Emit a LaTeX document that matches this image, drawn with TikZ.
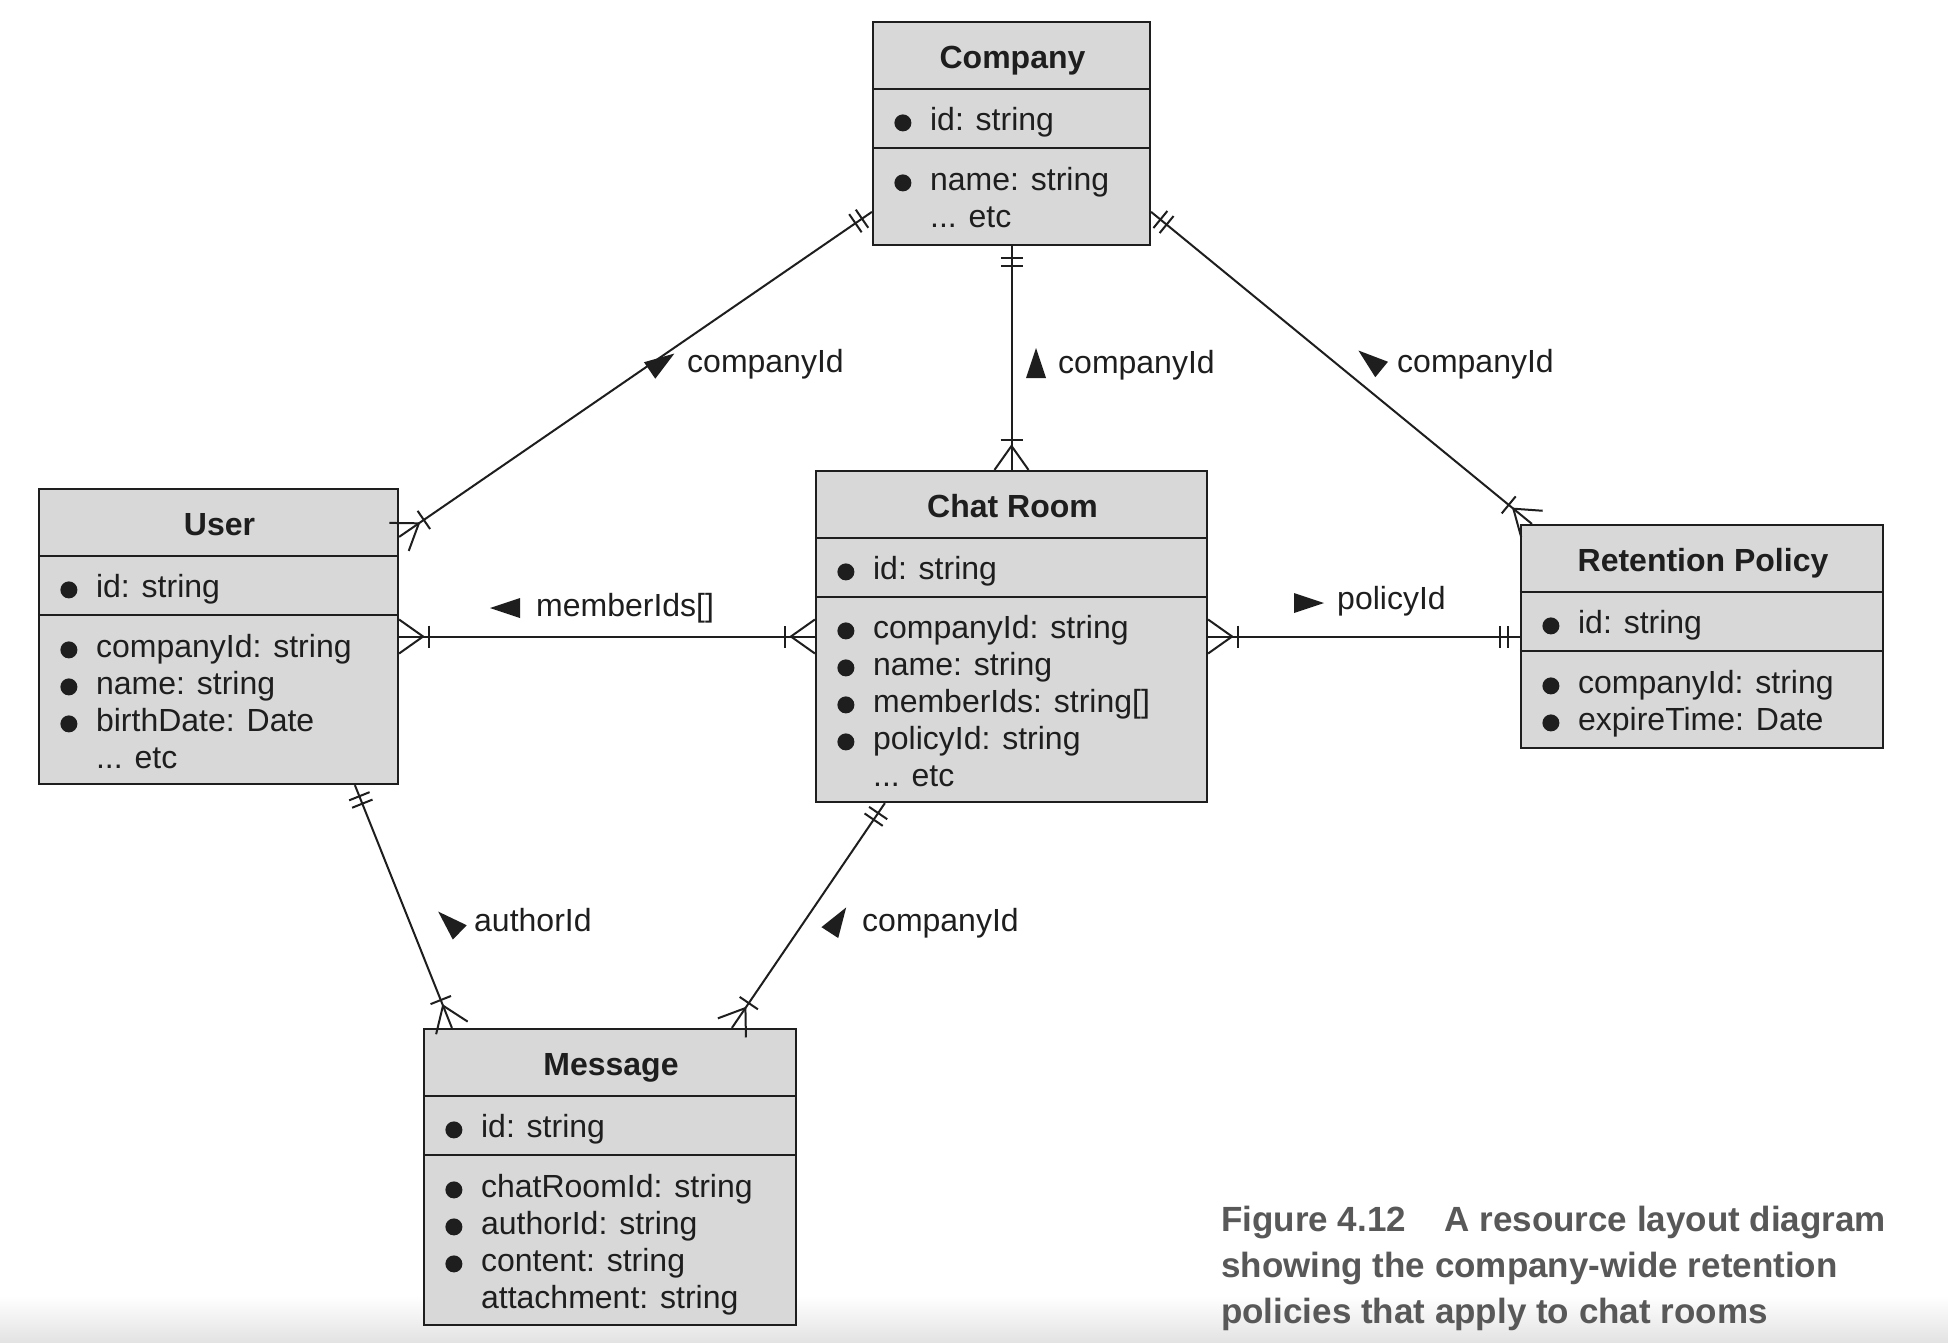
\documentclass[tikz,border=0pt]{standalone}
\usepackage{fontspec}
\setmainfont{Liberation Sans}
\usepackage{xcolor}
\usepackage{tikz}
\usetikzlibrary{calc}

\definecolor{boxfill}{RGB}{216,216,216}
\definecolor{ink}{RGB}{30,30,30}
\definecolor{capgray}{RGB}{88,88,88}

\newcommand{\etcrow}{... etc}

% many side: bar + crow's foot (#1 = end on the box, #2 = other end)
\newcommand{\manyend}[2]{%
  \coordinate (cfTip) at ($(#1)!24pt!(#2)$);
  \coordinate (cfBar) at ($(#1)!30pt!(#2)$);
  \draw[rel] ($(#1)!17pt!90:(#2)$) -- (cfTip) -- ($(#1)!17pt!-90:(#2)$);
  \draw[rel] ($(cfBar)!11pt!90:(#2)$) -- ($(cfBar)!11pt!-90:(#2)$);
}
% one side: two bars
\newcommand{\oneend}[2]{%
  \coordinate (cfBarA) at ($(#1)!12pt!(#2)$);
  \coordinate (cfBarB) at ($(#1)!20pt!(#2)$);
  \draw[rel] ($(cfBarA)!11pt!90:(#2)$) -- ($(cfBarA)!11pt!-90:(#2)$);
  \draw[rel] ($(cfBarB)!11pt!90:(#2)$) -- ($(cfBarB)!11pt!-90:(#2)$);
}

\begin{document}
\begin{tikzpicture}[x=1pt, y=-1pt,
    every node/.style={text=ink, inner sep=0pt, font=\fontsize{32}{37}\selectfont},
    entity/.style={draw=ink, fill=boxfill, line width=2.2pt, rectangle},
    rel/.style={draw=ink, line width=2pt},
    title/.style={anchor=base, font=\fontsize{32}{37}\selectfont\bfseries},
    field/.style={anchor=base west},
    lbl/.style={anchor=base west},
    captionline/.style={anchor=base west, text=capgray, font=\fontsize{35}{46}\selectfont\bfseries},
    dirtri/.pic={\fill[ink] (15pt,0pt) -- (-15pt,10pt) -- (-15pt,-10pt) -- cycle;}]

  \path[use as bounding box, fill=white] (0,0) rectangle (1948,1342);
  % faint page shadow at the bottom
  \shade[top color=white, bottom color=black!11] (0,1296) rectangle (1948,1342);

  % entity boxes
  \node[entity, minimum width=277pt, minimum height=223pt] (company) at (1011.5,133.5) {};
  \node[entity, minimum width=359pt, minimum height=295pt] (user) at (218.5,636.5) {};
  \node[entity, minimum width=391pt, minimum height=331pt] (chat) at (1011.5,636.5) {};
  \node[entity, minimum width=362pt, minimum height=223pt] (policy) at (1702,636.5) {};
  \node[entity, minimum width=372pt, minimum height=296pt] (message) at (610,1177) {};

  % header and id compartments
  \foreach \e/\w in {company/277, user/359, chat/391, policy/362, message/372} {
    \draw[rel, line width=2.2pt] ($(\e.north west)+(0,68)$) -- ++(\w,0);
    \draw[rel, line width=2.2pt] ($(\e.north west)+(0,127)$) -- ++(\w,0);
  }

  % titles
  \foreach \e/\t in {company/Company, user/User, chat/Chat Room,
                     policy/Retention Policy, message/Message}
    \node[title] (\e-title) at ($(\e.north)+(1,48)$) {\t};

  % fields with a bullet
  \foreach \e/\y/\t in {company/110/id: string, company/170/name: string,
      user/110/id: string, user/170/companyId: string, user/207/name: string,
      user/244/birthDate: Date,
      chat/110/id: string, chat/169/companyId: string, chat/206/name: string,
      chat/243/memberIds: string[], chat/280/policyId: string,
      policy/110/id: string, policy/170/companyId: string,
      policy/207/expireTime: Date,
      message/110/id: string, message/170/chatRoomId: string,
      message/207/authorId: string, message/244/content: string} {
    \fill[ink] ($(\e.north west)+(31,\y-8)$) circle (8.5pt);
    \node[field] (\e-\y) at ($(\e.north west)+(58,\y)$) {\t};
  }

  % fields without a bullet
  \foreach \e/\y/\t in {company/207/\etcrow, user/281/\etcrow, chat/317/\etcrow,
                        message/281/attachment: string}
    \node[field] (\e-\y) at ($(\e.north west)+(58,\y)$) {\t};

  % connector ends on the box edges
  \coordinate (coUser) at ($(company.north west)+(0,191)$);
  \coordinate (userCo) at ($(user.north east)+(0,49)$);
  \coordinate (coPolicy) at ($(company.north east)+(0,191)$);
  \coordinate (policyCo) at ($(policy.north west)+(12,0)$);
  \coordinate (userMsg) at ($(user.south west)+(317,0)$);
  \coordinate (msgUser) at ($(message.north west)+(29,0)$);
  \coordinate (chatMsg) at ($(chat.south west)+(70,0)$);
  \coordinate (msgChat) at ($(message.north west)+(309,0)$);

  % relations
  \draw[rel] (coUser) -- (userCo);
  \draw[rel] (company.south) -- (chat.north);
  \draw[rel] (coPolicy) -- (policyCo);
  \draw[rel] (user.east) -- (chat.west);
  \draw[rel] (chat.east) -- (policy.west);
  \draw[rel] (userMsg) -- (msgUser);
  \draw[rel] (chatMsg) -- (msgChat);

  \oneend{coUser}{userCo}            \manyend{userCo}{coUser}
  \oneend{company.south}{chat.north} \manyend{chat.north}{company.south}
  \oneend{coPolicy}{policyCo}        \manyend{policyCo}{coPolicy}
  \manyend{user.east}{chat.west}     \manyend{chat.west}{user.east}
  \manyend{chat.east}{policy.west}   \oneend{policy.west}{chat.east}
  \oneend{userMsg}{msgUser}          \manyend{msgUser}{userMsg}
  \oneend{chatMsg}{msgChat}          \manyend{msgChat}{chatMsg}

  % direction marks and key labels
  \pic[rotate=34.4] at (662,362) {dirtri};
  \node[lbl] (lblCoUser) at (687,372) {companyId};
  \pic[rotate=90] at (1036,363) {dirtri};
  \node[lbl] (lblCoChat) at (1058,373) {companyId};
  \pic[rotate=140.7] at (1370,360) {dirtri};
  \node[lbl] (lblCoPolicy) at (1397,372) {companyId};
  \pic[rotate=180] at (505,608) {dirtri};
  \node[lbl] (lblMembers) at (536,616) {memberIds[]};
  \pic at (1309,603) {dirtri};
  \node[lbl] (lblPolicy) at (1337,609) {policyId};
  \pic[rotate=136] at (449,922) {dirtri};
  \node[lbl] (lblAuthor) at (474,931) {authorId};
  \pic[rotate=57] at (838,920) {dirtri};
  \node[lbl] (lblChatMsg) at (862,931) {companyId};

  % caption
  \node[captionline] (caption1) at (1221,1231) {Figure 4.12\hspace{1.1em}A resource layout diagram};
  \node[captionline] (caption2) at (1221,1277) {showing the company-wide retention};
  \node[captionline] (caption3) at (1221,1323) {policies that apply to chat rooms};

\end{tikzpicture}
\end{document}
